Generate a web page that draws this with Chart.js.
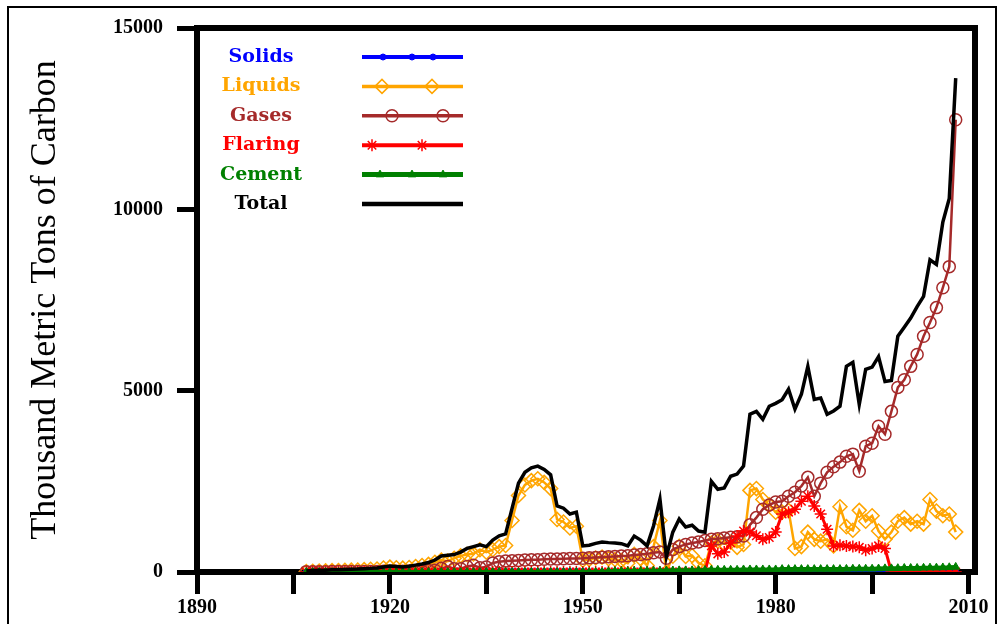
<!DOCTYPE html>
<html>
<head>
<meta charset="utf-8">
<script src="https://cdn.jsdelivr.net/npm/chart.js@4.4.0/dist/chart.umd.min.js"></script>
<style>
html, body { margin: 0; padding: 0; background: #fff; }
#wrap { position: relative; width: 1000px; height: 624px; overflow: hidden; }
#frame { position: absolute; left: 7px; top: 6px; width: 986px; height: 700px; border: 2px solid #000; }
#myChart { position: absolute; left: 0; top: 0; }
</style>
</head>
<body>
<div id="wrap">
  <div id="frame"></div>
  <canvas id="myChart" width="1000" height="624"></canvas>
</div>
<script>
// years 1907 - 2008
var years = [
  1907, 1908, 1909, 1910, 1911, 1912, 1913, 1914, 1915, 1916,
  1917, 1918, 1919, 1920, 1921, 1922, 1923, 1924, 1925, 1926,
  1927, 1928, 1929, 1930, 1931, 1932, 1933, 1934, 1935, 1936,
  1937, 1938, 1939, 1940, 1941, 1942, 1943, 1944, 1945, 1946,
  1947, 1948, 1949, 1950, 1951, 1952, 1953, 1954, 1955, 1956,
  1957, 1958, 1959, 1960, 1961, 1962, 1963, 1964, 1965, 1966,
  1967, 1968, 1969, 1970, 1971, 1972, 1973, 1974, 1975, 1976,
  1977, 1978, 1979, 1980, 1981, 1982, 1983, 1984, 1985, 1986,
  1987, 1988, 1989, 1990, 1991, 1992, 1993, 1994, 1995, 1996,
  1997, 1998, 1999, 2000, 2001, 2002, 2003, 2004, 2005, 2006,
  2007, 2008
];
var solids = [
  10, 10, 10, 10, 10, 10, 10, 10, 10, 10,
  10, 10, 10, 10, 10, 10, 10, 10, 10, 10,
  10, 10, 10, 10, 15, 15, 15, 15, 15, 15,
  15, 15, 15, 15, 15, 15, 15, 15, 15, 15,
  15, 15, 15, 15, 5, 5, 5, 5, 5, 5,
  5, 5, 5, 5, 5, 5, 5, 5, 5, 5,
  5, 5, 5, 0, 0, 0, 0, 0, 0, 0,
  0, 0, 0, 0, 0, 0, 0, 0, 0, 0,
  0, 0, 0, 0, 0, 0, 0, 0, 0, 0,
  0, 0, 0, 0, 0, 0, 0, 0, 0, 0,
  0, 0
];
var liquids = [
  10, 20, 25, 30, 38, 43, 46, 51, 55, 65,
  74, 83, 112, 135, 118, 106, 124, 152, 180, 210,
  270, 330, 300, 380, 445, 485, 500, 615, 545, 615,
  700, 730, 1420, 2110, 2400, 2520, 2570, 2470, 2300, 1450,
  1380, 1215, 1260, 325, 345, 385, 410, 365, 345, 315,
  240, 485, 365, 180, 700, 1420, 0, 435, 710, 430,
  450, 250, 170, 800, 850, 780, 820, 680, 760, 2250,
  2300, 2000, 1850, 1650, 1650, 1700, 650, 700, 1100, 900,
  850, 900, 720, 1800, 1250, 1150, 1700, 1400, 1550, 1130,
  900, 1100, 1400, 1500, 1320, 1400, 1320, 2000, 1680, 1550,
  1600, 1100
];
var gases = [
  10, 10, 10, 10, 12, 12, 14, 14, 15, 15,
  16, 17, 18, 20, 22, 24, 26, 28, 30, 40,
  50, 100, 150, 90, 90, 150, 185, 120, 140, 250,
  280, 300, 310, 320, 330, 340, 340, 350, 360, 360,
  365, 370, 375, 380, 390, 400, 410, 420, 430, 440,
  450, 470, 480, 500, 530, 550, 380, 620, 700, 760,
  800, 830, 870, 900, 920, 940, 960, 970, 990, 1300,
  1500, 1730, 1850, 1930, 1950, 2090, 2200, 2370, 2610, 2090,
  2450, 2750, 2900, 3030, 3190, 3250, 2780, 3470, 3550, 4020,
  3800, 4430, 5090, 5300, 5670, 6000, 6500, 6880, 7290, 7840,
  8420, 12470
];
var flaring = [
  0, 0, 0, 0, 0, 0, 0, 0, 0, 0,
  0, 0, 0, 0, 0, 0, 0, 0, 0, 0,
  0, 0, 0, 0, 0, 0, 0, 0, 0, 0,
  0, 0, 0, 0, 0, 0, 0, 0, 0, 0,
  0, 0, 0, 0, 0, 0, 0, 0, 0, 0,
  0, 0, 0, 0, 0, 0, 0, 0, 0, 0,
  0, 0, 0, 720, 500, 550, 800, 990, 1130, 1100,
  1000, 900, 950, 1100, 1600, 1650, 1730, 1950, 2090, 1820,
  1600, 1180, 715, 740, 720, 700, 680, 600, 650, 720,
  650, 0, 0, 0, 0, 0, 0, 0, 0, 0,
  0, 0
];
var cement = [
  0, 0, 0, 0, 0, 0, 0, 0, 0, 0,
  0, 0, 0, 0, 0, 0, 0, 0, 0, 0,
  0, 0, 0, 0, 0, 0, 0, 0, 0, 0,
  0, 0, 0, 0, 0, 0, 0, 0, 0, 0,
  0, 0, 0, 0, 0, 0, 0, 20, 25, 25,
  25, 30, 30, 35, 35, 35, 40, 40, 45, 45,
  45, 50, 55, 60, 60, 60, 60, 60, 70, 70,
  70, 70, 70, 70, 80, 80, 80, 80, 80, 80,
  80, 80, 80, 80, 85, 90, 90, 90, 90, 95,
  100, 100, 105, 110, 110, 110, 115, 120, 120, 125,
  130, 140
];
var total = [
  30, 40, 45, 50, 60, 65, 70, 75, 80, 90,
  100, 110, 140, 165, 150, 140, 160, 190, 220, 260,
  330, 440, 460, 480, 550, 650, 700, 750, 700, 880,
  1000, 1050, 1750, 2450, 2750, 2870, 2920, 2830, 2680, 1820,
  1760, 1600, 1650, 720, 740, 790, 825, 810, 800, 780,
  720, 990, 880, 720, 1270, 2010, 420, 1100, 1460, 1240,
  1290, 1130, 1100, 2500, 2280, 2320, 2640, 2700, 2920, 4350,
  4430, 4210, 4570, 4650, 4750, 5040, 4490, 4900, 5670, 4760,
  4800, 4350, 4440, 4570, 5670, 5780, 4620, 5590, 5650, 5940,
  5250, 5280, 6500, 6750, 7000, 7320, 7600, 8610, 8480, 9650,
  10300, 13620
];
var xTicks = [1890, 1905, 1920, 1935, 1950, 1965, 1980, 1995, 2010];
var xLabels = [1890, 1920, 1950, 1980, 2010];
var yTicks = [0, 5000, 10000, 15000];

function punkte(werte) {
    return werte.map((v, i) => ({ x: years[i], y: v }));
}

//Legende wie im Original: Text links, Linie mit Markern rechts
var legendeMarker = [[383, 412, 433], [382, 432], [392, 443], [372, 422], [380, 412, 443], []];
const legendePlugin = {
    id: 'legende',
    afterDraw(chart) {
        var ctx = chart.ctx;
        ctx.save();
        ctx.font = 'bold 19px "DejaVu Serif"';
        ctx.textAlign = 'center';
        ctx.textBaseline = 'middle';
        chart.data.datasets.forEach((ds, i) => {
            var y = 57 + i * 29.4;
            ctx.fillStyle = ds.borderColor;
            ctx.fillText(ds.label, 261, y);
            ctx.strokeStyle = ds.borderColor;
            ctx.lineWidth = ds.borderWidth + 1;
            ctx.beginPath();
            ctx.moveTo(362, y);
            ctx.lineTo(463, y);
            ctx.stroke();
            legendeMarker[i].forEach(mx => {
                ctx.fillStyle = ds.pointBackgroundColor;
                ctx.strokeStyle = ds.borderColor;
                ctx.lineWidth = ds.pointBorderWidth;
                Chart.helpers.drawPoint(ctx, {
                    pointStyle: ds.pointStyle,
                    radius: ds.pointRadius,
                    borderWidth: ds.pointBorderWidth,
                    rotation: 0
                }, mx, y);
            });
        });
        ctx.restore();
    }
};

//Rahmen oben und rechts
const rahmenPlugin = {
    id: 'rahmen',
    afterDraw(chart) {
        var ctx = chart.ctx;
        var a = chart.chartArea;
        ctx.save();
        ctx.strokeStyle = '#000';
        ctx.lineWidth = 6;
        ctx.beginPath();
        ctx.moveTo(a.left - 3, a.top);
        ctx.lineTo(a.right, a.top);
        ctx.lineTo(a.right, a.bottom + 3);
        ctx.stroke();
        ctx.restore();
    }
};

var canvas = document.getElementById('myChart');
var myChart = new Chart(canvas, {
    type: 'line',
    data: {
        datasets: [
            {
                label: 'Solids', data: punkte(solids), order: 5,
                borderColor: '#0000ff', backgroundColor: '#0000ff', borderWidth: 3,
                pointStyle: 'circle', pointRadius: 3, pointBackgroundColor: '#0000ff', pointBorderWidth: 1
            },
            {
                label: 'Liquids', data: punkte(liquids), order: 4,
                borderColor: '#ffa500', backgroundColor: '#ffa500', borderWidth: 2.5,
                pointStyle: 'rectRot', pointRadius: 7, pointBackgroundColor: 'rgba(0,0,0,0)', pointBorderWidth: 1.5
            },
            {
                label: 'Gases', data: punkte(gases), order: 3,
                borderColor: '#a52a2a', backgroundColor: '#a52a2a', borderWidth: 2.5,
                pointStyle: 'circle', pointRadius: 6, pointBackgroundColor: 'rgba(0,0,0,0)', pointBorderWidth: 1.5
            },
            {
                label: 'Flaring', data: punkte(flaring), order: 2,
                borderColor: '#ff0000', backgroundColor: '#ff0000', borderWidth: 3,
                pointStyle: 'star', pointRadius: 6, pointBackgroundColor: '#ff0000', pointBorderWidth: 1.5
            },
            {
                label: 'Cement', data: punkte(cement), order: 1,
                borderColor: '#008000', backgroundColor: '#008000', borderWidth: 4,
                pointStyle: 'triangle', pointRadius: 4.5, pointBackgroundColor: '#008000', pointBorderWidth: 1
            },
            {
                label: 'Total', data: punkte(total), order: 0,
                borderColor: '#000000', backgroundColor: '#000000', borderWidth: 3.5,
                pointStyle: 'circle', pointRadius: 0, pointBackgroundColor: '#000000', pointBorderWidth: 0
            }
        ]
    },
    options: {
        responsive: false,
        animation: false,
        layout: { padding: { top: 28, right: 25, left: 0, bottom: 0 } },
        plugins: {
            legend: { display: false },
            tooltip: { enabled: false },
            title: { display: false }
        },
        scales: {
            x: {
                type: 'linear',
                min: 1890,
                max: 2011,
                afterFit: function (scale) { scale.height = 52; },
                afterBuildTicks: function (scale) { scale.ticks = xTicks.map(v => ({ value: v })); },
                border: { display: true, color: '#000', width: 6 },
                grid: { drawOnChartArea: false, drawTicks: true, tickLength: 22, tickWidth: 5, color: '#000' },
                ticks: {
                    autoSkip: false,
                    maxRotation: 0,
                    padding: 2,
                    color: '#000',
                    font: { family: '"Liberation Serif"', size: 20, weight: 'bold' },
                    callback: function (v) { return xLabels.indexOf(v) >= 0 ? String(v) : ''; }
                }
            },
            y: {
                min: 0,
                max: 15000,
                afterFit: function (scale) { scale.width = 197; },
                afterBuildTicks: function (scale) { scale.ticks = yTicks.map(v => ({ value: v })); },
                border: { display: true, color: '#000', width: 6 },
                grid: { drawOnChartArea: false, drawTicks: true, tickLength: 20, tickWidth: 5, color: '#000' },
                ticks: {
                    padding: 14,
                    color: '#000',
                    font: { family: '"Liberation Serif"', size: 20, weight: 'bold' },
                    callback: function (v) { return String(v); }
                },
                title: {
                    display: true,
                    text: 'Thousand Metric Tons of Carbon',
                    color: '#000',
                    padding: { top: 24, bottom: 0 },
                    font: { family: '"Liberation Serif"', size: 36, weight: 'normal' }
                }
            }
        }
    },
    plugins: [legendePlugin, rahmenPlugin]
});
</script>
</body>
</html>
